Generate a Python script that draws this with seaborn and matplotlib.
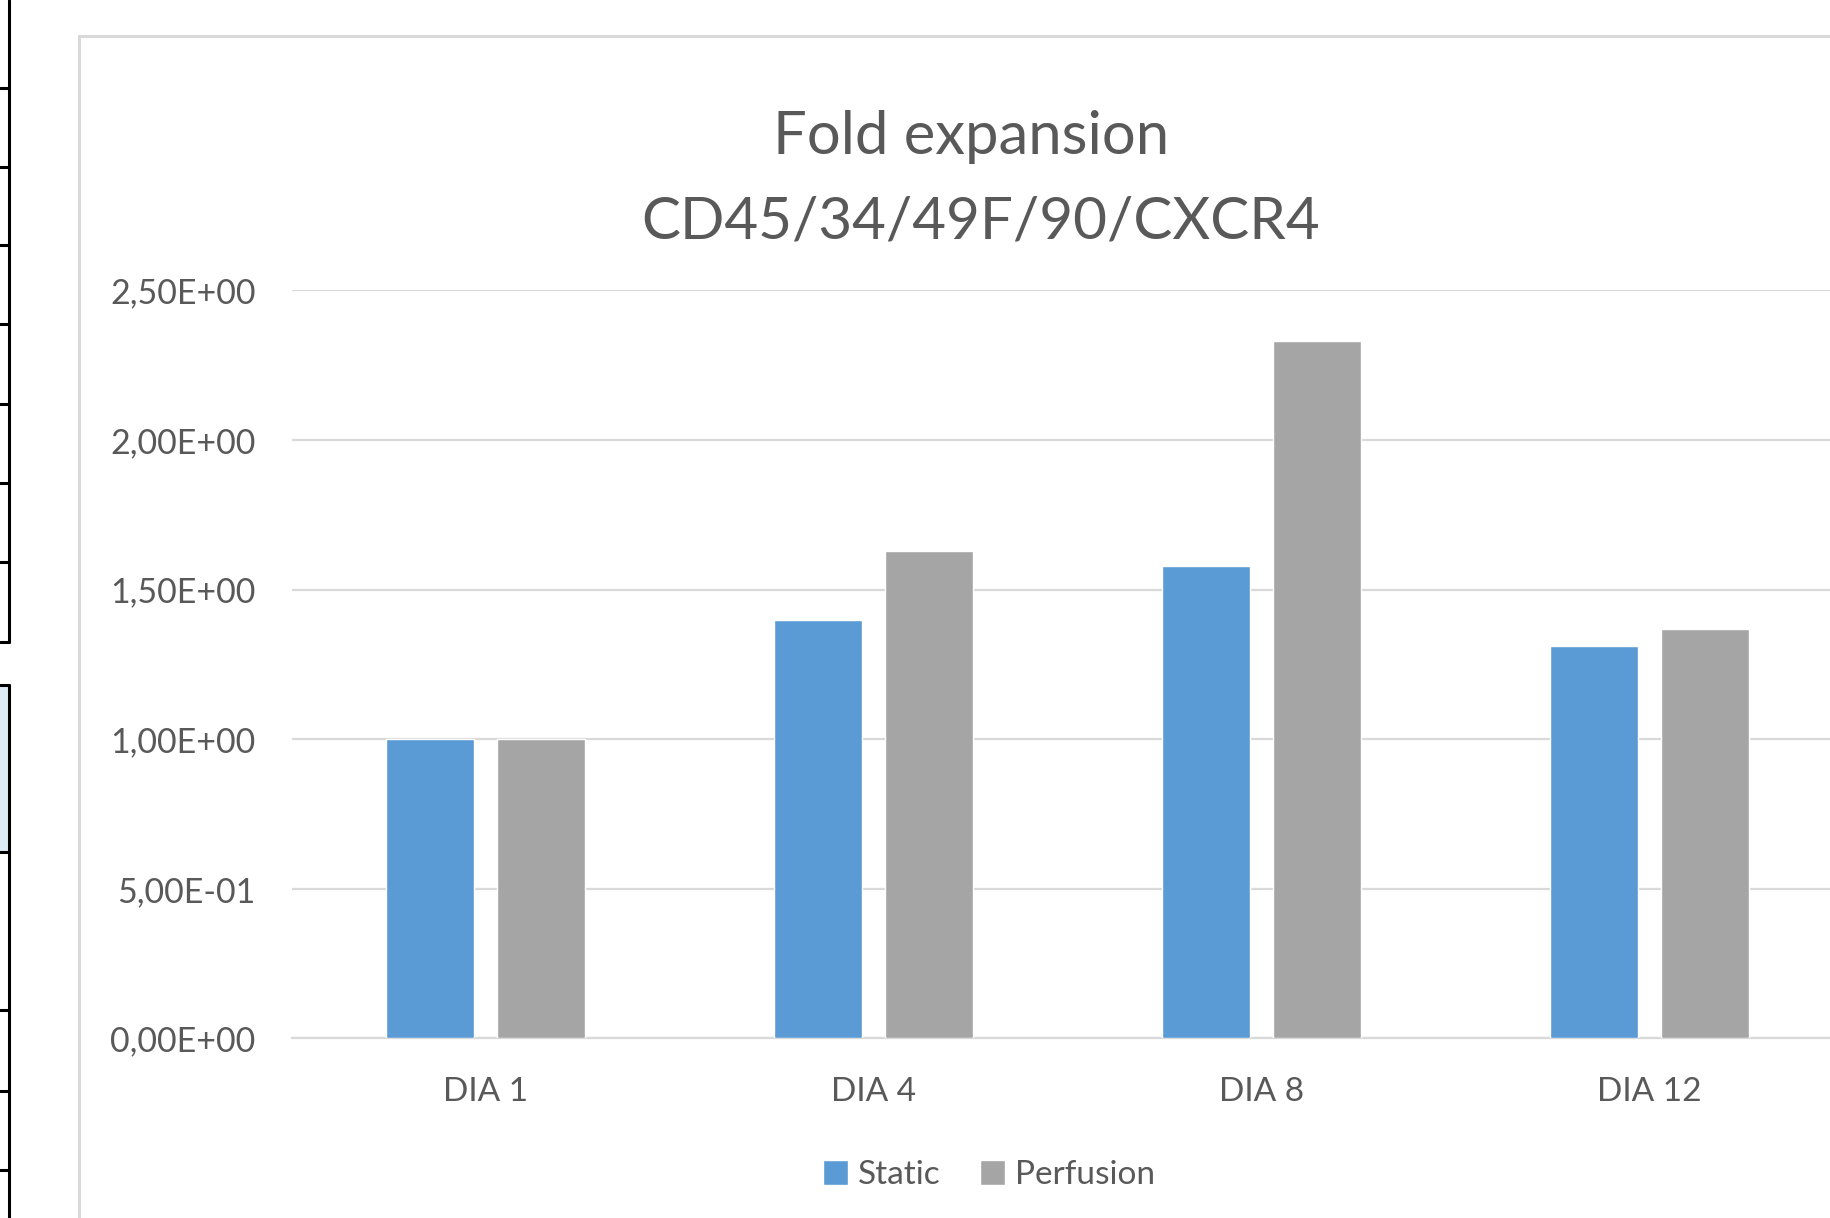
import pandas as pd
import matplotlib.pyplot as plt
import seaborn as sns
from matplotlib.lines import Line2D
from matplotlib.patches import Rectangle
from matplotlib.ticker import FuncFormatter

# Данные с графика
days = ["DIA 1", "DIA 4", "DIA 8", "DIA 12"]
static_vals = [1.00, 1.40, 1.58, 1.31]
perfusion_vals = [1.00, 1.63, 2.33, 1.37]
series_names = ["Static", "Perfusion"]
y_ticks = [0.0, 0.5, 1.0, 1.5, 2.0, 2.5]

colors = {"Static": "#5B9BD5", "Perfusion": "#A5A5A5"}
text_col = "#595959"


def sci_comma(v, pos=None):
    s = f"{v:.2E}"
    return s.replace(".", ",")


def main():
    df = pd.DataFrame({
        "day": days * 2,
        "value": static_vals + perfusion_vals,
        "series": [series_names[0]] * len(days) + [series_names[1]] * len(days),
    })

    sns.set_style("white")
    plt.rcParams["font.family"] = ["Lato", "DejaVu Sans"]

    fig = plt.figure(figsize=(18.3, 12.18), dpi=100)
    W, H = 1830, 1218

    # рамка области диаграммы (Excel)
    fig.add_artist(Rectangle((79.4 / W, -0.1), 1.2, 0.9703 + 0.1,
                             transform=fig.transFigure, fill=False,
                             edgecolor="#d9d9d9", linewidth=2.2))

    # кусок таблицы слева
    sc = 1218 / 1044
    xl = 9.3 / W

    def fy(y):
        return 1 - y * sc / H

    fig.add_artist(Rectangle((0, fy(730)), xl, fy(587) - fy(730),
                             transform=fig.transFigure, facecolor="#DDEBF7",
                             edgecolor="none"))
    fig.add_artist(Line2D([xl, xl], [1, fy(550)], transform=fig.transFigure,
                          color="black", linewidth=2.2))
    fig.add_artist(Line2D([xl, xl], [fy(587), 0], transform=fig.transFigure,
                          color="black", linewidth=2.2))
    for yy in [75, 143, 210, 278, 346, 414, 482, 550, 587, 730, 866, 935, 1003]:
        fig.add_artist(Line2D([0, xl], [fy(yy), fy(yy)], transform=fig.transFigure,
                              color="black", linewidth=2.2))

    ax = fig.add_axes([0.1594, 0.1475, 0.848, 0.614])
    sns.barplot(data=df, x="day", y="value", hue="series", palette=colors,
                width=0.572, gap=0.21, errorbar=None, saturation=1,
                ax=ax, zorder=3)

    ax.set_ylim(0, 2.5)
    ax.set_yticks(y_ticks)
    ax.yaxis.set_major_formatter(FuncFormatter(sci_comma))
    ax.set_xlim(-0.5, len(days) - 0.5)
    ax.grid(axis="y", color="#d9d9d9", linewidth=1.6, zorder=0)
    ax.set_axisbelow(True)
    for s in ["top", "right", "left"]:
        ax.spines[s].set_visible(False)
    ax.spines["bottom"].set_color("#d9d9d9")
    ax.spines["bottom"].set_linewidth(1.6)
    ax.tick_params(axis="y", length=0, pad=26, labelsize=24.5, labelcolor=text_col)
    ax.tick_params(axis="x", length=0, pad=28, labelsize=24, labelcolor=text_col)
    ax.set_xlabel("")
    ax.set_ylabel("")

    handles, labels = ax.get_legend_handles_labels()
    ax.get_legend().remove()
    fig.legend(handles, labels, loc="center", bbox_to_anchor=(0.5405, 0.0353),
               ncol=2, frameon=False, fontsize=24, labelcolor=text_col,
               handlelength=0.75, handleheight=0.75, handletextpad=0.3,
               columnspacing=1.2)

    fig.text(0.5306, 0.8875, "Fold expansion", ha="center", va="center",
             fontsize=43, color=text_col)
    fig.text(0.5357, 0.8180, "CD45/34/49F/90/CXCR4", ha="center", va="center",
             fontsize=42, color=text_col)

    fig.savefig("out.png", dpi=100)


if __name__ == "__main__":
    main()
